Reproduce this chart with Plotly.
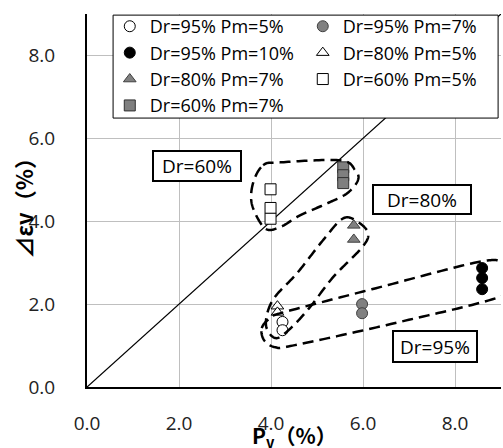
import numpy as np
import plotly.graph_objects as go

# ---- measured values: Pv (%) vs volumetric strain difference (%) ----
x_95_5 = [4.25, 4.25]
y_95_5 = [1.57, 1.37]
x_95_7 = [5.98, 5.98]
y_95_7 = [2.00, 1.78]
x_95_10 = [8.59, 8.59, 8.59]
y_95_10 = [2.87, 2.63, 2.36]
x_80_5 = [4.14, 4.14]
y_80_5 = [1.95, 1.80]
x_80_7 = [5.80, 5.80]
y_80_7 = [3.90, 3.56]
x_60_5 = [3.99, 3.99, 3.99]
y_60_5 = [4.77, 4.32, 4.06]
x_60_7 = [5.57, 5.57, 5.57]
y_60_7 = [5.30, 5.11, 4.92]

# 1:1 reference line
diag_x = [0, 9]
diag_y = [0, 9]

tick_vals = [0, 2, 4, 6, 8]

# outlines grouping the relative densities (data units)
loop_60 = [(3.83, 5.35), (4.20, 5.42), (5.50, 5.47), (5.83, 5.23), (5.89, 4.99),
           (5.65, 4.67), (5.22, 4.43), (4.63, 4.14), (4.20, 3.86), (3.87, 3.83),
           (3.59, 4.39), (3.61, 4.92)]
loop_80 = [(5.57, 4.07), (5.89, 3.98), (6.11, 3.71), (5.98, 3.37), (5.35, 2.65),
           (4.85, 1.93), (4.41, 1.40), (4.10, 1.18), (3.89, 1.50), (4.04, 2.10),
           (4.57, 2.75), (5.13, 3.54)]
loop_95 = [(3.80, 1.42), (3.98, 1.66), (4.30, 1.81), (6.37, 2.41), (8.48, 3.01),
           (9.09, 3.01), (9.52, 2.77), (9.09, 2.22), (6.80, 1.57), (4.52, 1.01),
           (4.09, 0.96), (3.85, 1.13)]

FONT = "Open Sans, Noto Sans CJK JP, sans-serif"
TITLE_FONT = "Noto Sans CJK JP, Open Sans, sans-serif"


def closed_spline(pts, n=24):
    p = np.array(pts, dtype=float)
    m = len(p)
    out = []
    for i in range(m):
        p0, p1, p2, p3 = p[(i - 1) % m], p[i], p[(i + 1) % m], p[(i + 2) % m]
        for t in np.linspace(0, 1, n, endpoint=False):
            t2, t3 = t * t, t * t * t
            pt = 0.5 * ((2 * p1) + (-p0 + p2) * t
                        + (2 * p0 - 5 * p1 + 4 * p2 - p3) * t2
                        + (-p0 + 3 * p1 - 3 * p2 + p3) * t3)
            out.append(pt)
    return "M " + " L ".join(f"{a:.4f},{b:.4f}" for a, b in out) + " Z"


fig = go.Figure()

fig.add_trace(go.Scatter(x=diag_x, y=diag_y, mode="lines",
                         line=dict(color="black", width=1.3),
                         showlegend=False, hoverinfo="skip"))

series = [
    ("Dr=95% Pm=5%", x_95_5, y_95_5, "circle", "white", "black"),
    ("Dr=95% Pm=7%", x_95_7, y_95_7, "circle", "#808080", "#404040"),
    ("Dr=95% Pm=10%", x_95_10, y_95_10, "circle", "black", "black"),
    ("Dr=80% Pm=5%", x_80_5, y_80_5, "triangle-up", "white", "black"),
    ("Dr=80% Pm=7%", x_80_7, y_80_7, "triangle-up", "#808080", "#404040"),
    ("Dr=60% Pm=5%", x_60_5, y_60_5, "square", "white", "black"),
    ("Dr=60% Pm=7%", x_60_7, y_60_7, "square", "#7f7f7f", "#303030"),
]
for name, xs, ys, sym, fill, edge in series:
    fig.add_trace(go.Scatter(
        x=xs, y=ys, mode="markers", name=name,
        marker=dict(symbol=sym, size=11, color=fill,
                    line=dict(color=edge, width=1)),
    ))

for loop in (loop_60, loop_80, loop_95):
    fig.add_shape(type="path", path=closed_spline(loop), xref="x", yref="y",
                  line=dict(color="black", width=2.5, dash="11px,6px"),
                  layer="above")

# legend frame (white panel with a thin black border)
fig.add_shape(type="rect", xref="paper", yref="paper",
              x0=0.063, x1=0.993, y0=0.721, y1=0.997,
              line=dict(color="black", width=1), fillcolor="white",
              layer="above")

box_labels = [("Dr=60%", 2.39, 5.33, 84, 26),
              ("Dr=80%", 7.28, 4.52, 94, 25),
              ("Dr=95%", 7.57, 0.975, 80, 27)]
for txt, bx, by, w, h in box_labels:
    fig.add_annotation(x=bx, y=by, xref="x", yref="y", text=txt,
                       showarrow=False, width=w, height=h,
                       font=dict(family=FONT, size=19, color="black"),
                       bgcolor="white", bordercolor="black",
                       borderwidth=2, borderpad=1)

# axis titles, placed as free text around the plotting area
fig.add_annotation(text="<b>⊿εv（%）</b>", xref="paper", yref="paper",
                   x=0, y=0.5, xanchor="center", yanchor="middle",
                   xshift=-65, yshift=-3, textangle=-90, showarrow=False,
                   font=dict(family=TITLE_FONT, size=22, color="black"))
fig.add_annotation(text="<b>P<sub>v</sub>（%）</b>", xref="paper", yref="paper",
                   x=0.5, y=0, xanchor="center", yanchor="middle",
                   yshift=-49, showarrow=False,
                   font=dict(family=TITLE_FONT, size=21, color="black"))

axis_common = dict(
    range=[0, 9], tickvals=tick_vals, tickformat=".1f",
    showgrid=True, gridcolor="#bfbfbf", gridwidth=1,
    showline=True, linecolor="black", linewidth=2,
    zeroline=False, ticks="outside", tickcolor="rgba(0,0,0,0)",
    tickfont=dict(family=FONT, size=19, color="#222222"),
    fixedrange=True, automargin=False,
)

fig.update_xaxes(**axis_common, ticklen=18)
fig.update_yaxes(**axis_common, ticklen=26)

fig.update_layout(
    width=503, height=448,
    margin=dict(l=87, r=2, t=14, b=61),
    paper_bgcolor="white", plot_bgcolor="white",
    font=dict(family=FONT, size=19, color="black"),
    legend=dict(
        orientation="h", x=0.055, y=1.016, xanchor="left", yanchor="top",
        bgcolor="rgba(0,0,0,0)", borderwidth=0,
        font=dict(family=FONT, size=18, color="black"),
        entrywidth=148, itemwidth=30, tracegroupgap=0,
    ),
)

fig.write_html("out.html")
